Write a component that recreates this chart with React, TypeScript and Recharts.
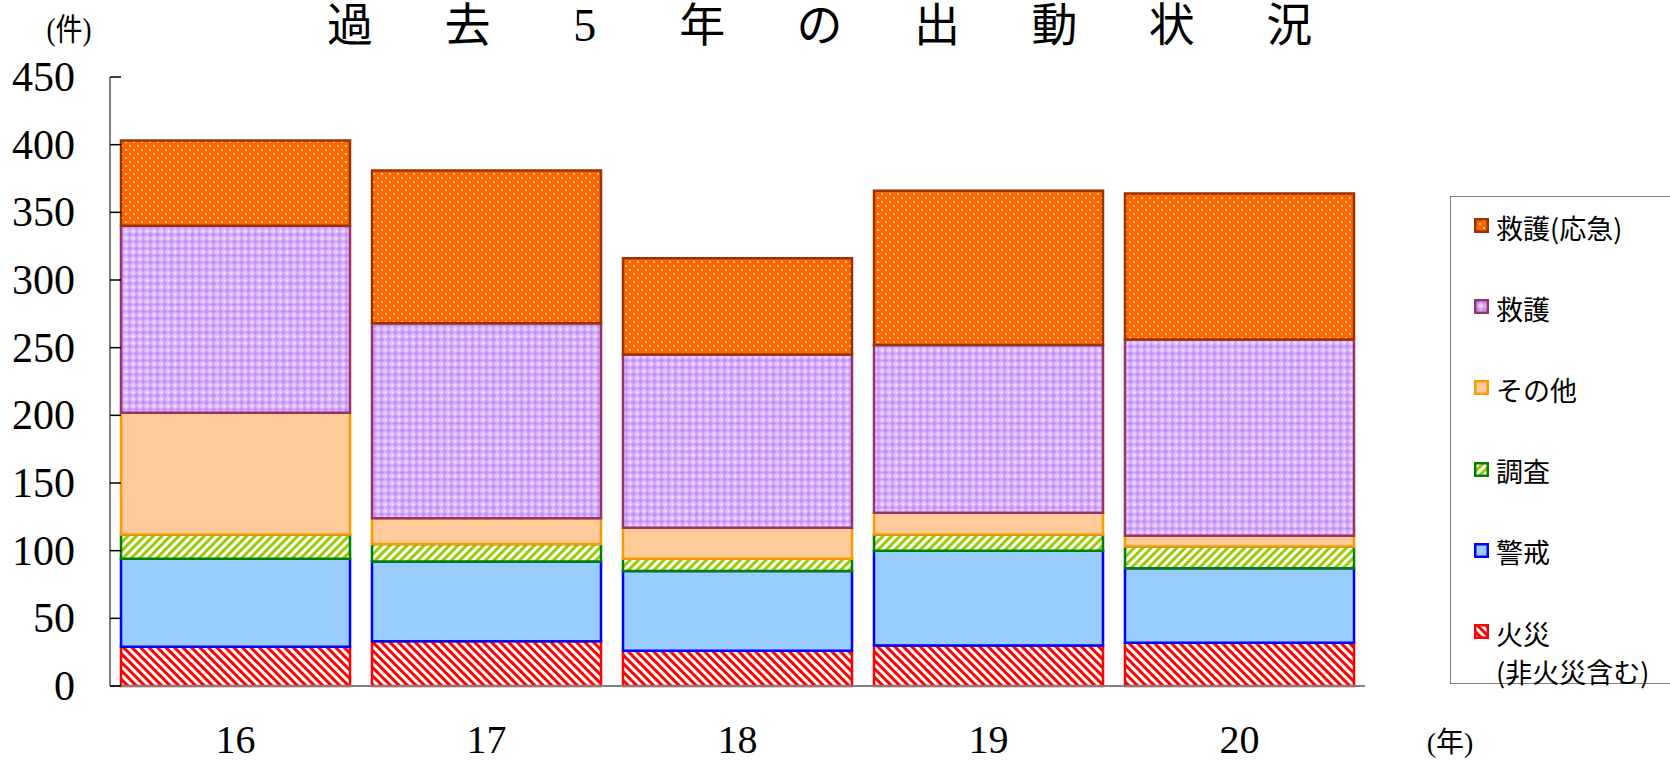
import { BarChart, Bar, XAxis, YAxis, Legend } from 'recharts';

const YEARS = ['16', '17', '18', '19', '20'];
const FIRE = [29, 33, 26, 30, 32];
const ALERT = [65, 59, 59, 70, 55];
const SURVEY = [18, 13, 9, 12, 16];
const OTHER = [90, 19, 23, 16, 8];
const RESCUE = [138, 144, 128, 124, 145];
const RESCUE_EMERGENCY = [63, 113, 71, 114, 108];
const Y_TICKS = [0, 50, 100, 150, 200, 250, 300, 350, 400, 450];
const TITLE = '過去5年の出動状況';

// stack order bottom -> top
const SERIES = [
  { key: 'fire', name: '火災', sub: '(非火災含む)', fill: 'url(#pFire)', stroke: '#FF0000' },
  { key: 'alert', name: '警戒', fill: '#99CCFF', stroke: '#0000FF' },
  { key: 'survey', name: '調査', fill: 'url(#pSurvey)', stroke: '#008000' },
  { key: 'other', name: 'その他', fill: '#FFCC99', stroke: '#FF9900' },
  { key: 'rescue', name: '救護', fill: 'url(#pRescue)', stroke: '#993366' },
  { key: 'emergency', name: '救護(応急)', fill: 'url(#pEmerg)', stroke: '#993300' },
];

const data = YEARS.map((year, i) => ({
  year,
  fire: FIRE[i],
  alert: ALERT[i],
  survey: SURVEY[i],
  other: OTHER[i],
  rescue: RESCUE[i],
  emergency: RESCUE_EMERGENCY[i],
}));

const SERIF = '"Liberation Serif", "Noto Sans CJK JP", serif';
const CJK = '"Noto Sans CJK JP", sans-serif';

const YTick = ({ x, y, payload }: any) => (
  <g>
    <line x1={x} x2={x + 11} y1={y} y2={y} stroke="#000" strokeWidth={1.5} />
    <text x={x - 35} y={y} dy={14} textAnchor="end" fontSize={42} fontFamily={SERIF} fill="#000">
      {payload.value}
    </text>
  </g>
);

const XTick = ({ x, y, payload }: any) => (
  <text x={x} y={y} dy={67} textAnchor="middle" fontSize={40} fontFamily={SERIF} fill="#000">
    {payload.value}
  </text>
);

const Marker = ({ fill, stroke }: { fill: string; stroke: string }) => (
  <svg width={15} height={15} style={{ display: 'block', flex: 'none', marginTop: -4 }}>
    <rect x={1.25} y={1.25} width={12.5} height={12.5} fill={fill} stroke={stroke} strokeWidth={2.5} />
  </svg>
);

const renderLegend = () => {
  const items = [...SERIES].reverse();
  return (
    <div
      style={{
        position: 'relative',
        width: 220,
        height: 488,
        borderLeft: '1.5px solid #808080',
        borderTop: '1.5px solid #808080',
        borderBottom: '1.5px solid #808080',
        boxSizing: 'border-box',
        fontFamily: CJK,
        fontSize: 27,
        color: '#000',
      }}
    >
      {items.map((s, i) => {
        const c = 30.5 + i * 81.2;
        return (
          <div key={s.key}>
            <div
              style={{
                position: 'absolute',
                left: 23,
                top: c - 20,
                height: 40,
                display: 'flex',
                alignItems: 'center',
                gap: 7,
                whiteSpace: 'nowrap',
                lineHeight: '40px',
              }}
            >
              <Marker fill={s.fill} stroke={s.stroke} />
              <span>{s.name}</span>
            </div>
            {s.sub && (
              <div
                style={{
                  position: 'absolute',
                  left: 45,
                  top: c + 38.5 - 20,
                  height: 40,
                  lineHeight: '40px',
                  whiteSpace: 'nowrap',
                }}
              >
                {s.sub}
              </div>
            )}
          </div>
        );
      })}
    </div>
  );
};

export default function App() {
  return (
    <div style={{ position: 'absolute', left: 0, top: 0, width: 1670, height: 765, overflow: 'hidden', background: '#fff' }}>
      <svg width={0} height={0} style={{ position: 'absolute' }}>
        <defs>
          <pattern id="pFire" width={6} height={6} patternUnits="userSpaceOnUse" patternTransform="rotate(-45)">
            <rect width={6} height={6} fill="#fff" />
            <rect width={3} height={6} fill="#FF0000" />
          </pattern>
          <pattern id="pSurvey" width={6} height={6} patternUnits="userSpaceOnUse" patternTransform="rotate(45)">
            <rect width={6} height={6} fill="#fff" />
            <rect width={3} height={6} fill="#99CC00" />
          </pattern>
          <pattern id="pRescue" width={7} height={7} patternUnits="userSpaceOnUse">
            <rect width={7} height={7} fill="#E2C6FF" />
            <rect x={2.5} y={0.5} width={2} height={6} fill="#C48CFF" />
            <rect x={0.5} y={2.5} width={6} height={2} fill="#C48CFF" />
            <rect x={0} y={0} width={1} height={1} fill="#fff" />
          </pattern>
          <pattern id="pEmerg" width={8} height={8} patternUnits="userSpaceOnUse">
            <rect width={8} height={8} fill="#FF6600" />
            <circle cx={2} cy={2} r={1} fill="#FFE6CC" />
            <circle cx={6} cy={6} r={1} fill="#FFE6CC" />
          </pattern>
        </defs>
      </svg>

      <BarChart width={1670} height={765} data={data} margin={{ top: 77, right: 305, bottom: 0, left: 0 }}>
        <XAxis
          dataKey="year"
          height={79}
          axisLine={{ stroke: '#808080', strokeWidth: 2 }}
          tickLine={false}
          tickSize={0}
          tickMargin={0}
          tick={<XTick />}
        />
        <YAxis
          width={110}
          domain={[0, 450]}
          ticks={Y_TICKS}
          interval={0}
          axisLine={{ stroke: '#808080', strokeWidth: 2 }}
          tickLine={false}
          tickSize={0}
          tickMargin={0}
          tick={<YTick />}
        />
        <Legend
          layout="horizontal"
          verticalAlign="middle"
          align="center"
          content={renderLegend}
          wrapperStyle={{ left: 1450, top: 196, width: 220, height: 488 }}
        />
        {SERIES.map((s) => (
          <Bar
            key={s.key}
            dataKey={s.key}
            name={s.name}
            stackId="a"
            fill={s.fill}
            stroke={s.stroke}
            strokeWidth={2.5}
            barSize={229}
            isAnimationActive={false}
          />
        ))}
      </BarChart>

      <svg width={1670} height={765} style={{ position: 'absolute', left: 0, top: 0, pointerEvents: 'none' }}>
        {TITLE.split('').map((ch, i) => (
          <text key={i} x={350 + i * 117.4} y={41} textAnchor="middle" fontSize={46} fontFamily={SERIF} fill="#000">
            {ch}
          </text>
        ))}
        <g transform="translate(69,40) scale(1,1.15)">
          <text x={0} y={0} textAnchor="middle" fontSize={27} fontFamily={SERIF} fill="#000">
            (件)
          </text>
        </g>
        <text x={1450} y={752} textAnchor="middle" fontSize={28} fontFamily={SERIF} fill="#000">
          (年)
        </text>
      </svg>
    </div>
  );
}
